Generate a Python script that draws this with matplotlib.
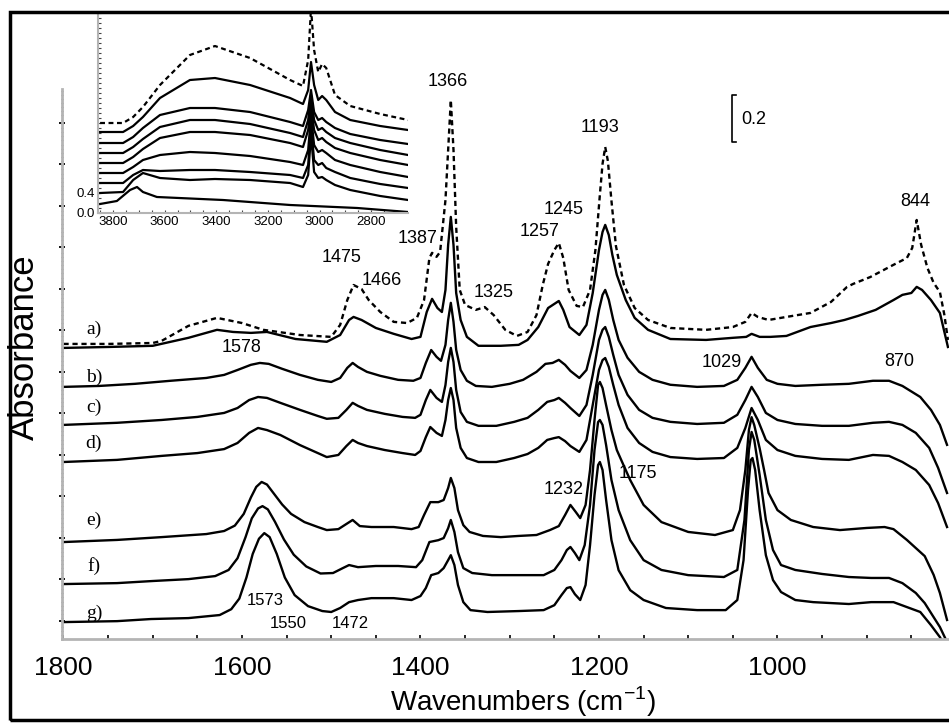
import numpy as np
import matplotlib.pyplot as plt
from matplotlib.ticker import MultipleLocator, FixedLocator, NullFormatter
from matplotlib.patches import Rectangle

plt.rcParams['font.family'] = ['Liberation Sans', 'DejaVu Sans']
plt.rcParams['mathtext.fontset'] = 'custom'
plt.rcParams['mathtext.rm'] = 'Liberation Sans'

# ---- main spectra (1800-810 cm-1), absorbance above each trace's own baseline ----
wn_ref = [1800, 1750, 1700, 1690, 1660, 1628, 1600, 1576, 1535, 1500, 1490, 1482, 1475, 1466, 1458,
          1445, 1430, 1415, 1404, 1396, 1390, 1387, 1382, 1378, 1372, 1369, 1366, 1363, 1360, 1356,
          1350, 1338, 1328, 1318, 1305, 1292, 1280, 1270, 1263, 1257, 1250, 1245, 1240, 1234, 1225,
          1218, 1210, 1204, 1199, 1196, 1193, 1190, 1186, 1181, 1172, 1160, 1145, 1120, 1080, 1050,
          1036, 1029, 1022, 1010, 990, 963, 940, 922, 915, 896, 870, 855, 849, 844, 839,
          832, 825, 818, 813, 809]
abs_ref = [0, 0, 0.004, 0.013, 0.077, 0.111, 0.089, 0.060, 0.038, 0.030, 0.081, 0.187, 0.251, 0.234, 0.187,
           0.136, 0.094, 0.089, 0.111, 0.187, 0.366, 0.388, 0.371, 0.392, 0.613, 0.826, 1.039, 0.826, 0.498, 0.230,
           0.166, 0.145, 0.157, 0.123, 0.060, 0.034, 0.051, 0.123, 0.251, 0.341, 0.400, 0.430, 0.366, 0.230, 0.162,
           0.157, 0.230, 0.400, 0.635, 0.767, 0.839, 0.779, 0.609, 0.417, 0.251, 0.153, 0.102, 0.068, 0.060, 0.072,
           0.094, 0.132, 0.115, 0.102, 0.115, 0.132, 0.179, 0.243, 0.256, 0.285, 0.337, 0.366, 0.409, 0.528, 0.422,
           0.324, 0.260, 0.221, 0.124, 0.017]

wn_a = [1800, 1750, 1700, 1660, 1628, 1610, 1590, 1572, 1540, 1505, 1490, 1480, 1475, 1466, 1450,
        1430, 1410, 1400, 1393, 1387, 1381, 1376, 1372, 1369, 1366, 1363, 1360, 1355, 1348, 1335,
        1310, 1290, 1280, 1268, 1257, 1245, 1240, 1233, 1222, 1214, 1207, 1200, 1196, 1193, 1189,
        1185, 1180, 1170, 1160, 1145, 1120, 1080, 1050, 1035, 1029, 1020, 1008, 990, 963, 940,
        925, 910, 890, 870, 860, 850, 844, 838, 828, 818, 809]
abs_a = [0, 0.004, 0.009, 0.043, 0.077, 0.068, 0.064, 0.068, 0.038, 0.026, 0.055, 0.119, 0.132, 0.119, 0.085,
         0.060, 0.038, 0.047, 0.153, 0.209, 0.170, 0.153, 0.247, 0.439, 0.558, 0.439, 0.234, 0.119, 0.047, 0.009,
         0.009, 0.013, 0.034, 0.089, 0.170, 0.200, 0.162, 0.089, 0.055, 0.098, 0.234, 0.417, 0.494, 0.524, 0.481,
         0.396, 0.311, 0.204, 0.128, 0.077, 0.038, 0.034, 0.043, 0.047, 0.060, 0.047, 0.047, 0.051, 0.089, 0.106,
         0.119, 0.136, 0.162, 0.204, 0.226, 0.234, 0.260, 0.247, 0.204, 0.149, 0.004]

wn_b = [1800, 1760, 1720, 1680, 1640, 1620, 1605, 1590, 1580, 1570, 1555, 1535, 1515, 1500, 1490,
        1482, 1476, 1470, 1460, 1445, 1425, 1408, 1400, 1394, 1388, 1382, 1377, 1372, 1369, 1366,
        1363, 1360, 1355, 1348, 1338, 1320, 1300, 1285, 1270, 1260, 1252, 1245, 1238, 1232, 1222,
        1214, 1207, 1200, 1196, 1193, 1189, 1184, 1178, 1168, 1155, 1140, 1120, 1090, 1060, 1045,
        1036, 1029, 1022, 1012, 1000, 980, 950, 920, 893, 875, 860, 840, 828, 818, 810]
abs_b = [0, 0.004, 0.013, 0.026, 0.038, 0.051, 0.072, 0.094, 0.102, 0.098, 0.077, 0.051, 0.030, 0.021, 0.038,
         0.081, 0.102, 0.085, 0.064, 0.047, 0.030, 0.026, 0.038, 0.102, 0.157, 0.128, 0.111, 0.179, 0.285, 0.358,
         0.277, 0.158, 0.072, 0.026, 0.004, 0, 0.013, 0.030, 0.064, 0.098, 0.102, 0.115, 0.094, 0.068, 0.038,
         0.072, 0.179, 0.328, 0.392, 0.413, 0.371, 0.285, 0.200, 0.124, 0.064, 0.030, 0.009, 0, 0.004, 0.030,
         0.081, 0.128, 0.081, 0.030, 0.013, 0.004, 0.009, 0.013, 0.026, 0.026, 0.004, -0.043, -0.098, -0.162, -0.247]

wn_c = [1800, 1740, 1690, 1650, 1620, 1605, 1592, 1582, 1572, 1557, 1535, 1515, 1505, 1492, 1483,
        1476, 1470, 1460, 1440, 1420, 1406, 1400, 1394, 1389, 1382, 1376, 1372, 1369, 1366, 1363,
        1360, 1355, 1348, 1335, 1315, 1295, 1280, 1268, 1258, 1250, 1245, 1238, 1232, 1222, 1214,
        1207, 1200, 1196, 1193, 1189, 1184, 1178, 1168, 1155, 1140, 1120, 1090, 1060, 1045, 1036,
        1029, 1022, 1013, 1000, 980, 950, 920, 893, 875, 860, 845, 830, 820, 810]
abs_c = [0, 0.009, 0.021, 0.034, 0.051, 0.072, 0.106, 0.119, 0.115, 0.094, 0.064, 0.038, 0.026, 0.030, 0.064,
         0.094, 0.081, 0.064, 0.047, 0.034, 0.030, 0.043, 0.106, 0.149, 0.115, 0.098, 0.170, 0.268, 0.328, 0.268,
         0.149, 0.055, 0.013, -0.004, -0.004, 0.013, 0.030, 0.064, 0.098, 0.106, 0.115, 0.094, 0.072, 0.038, 0.085,
         0.213, 0.362, 0.405, 0.417, 0.375, 0.298, 0.213, 0.128, 0.064, 0.030, 0.013, 0.004, 0.009, 0.043, 0.106,
         0.162, 0.119, 0.051, 0.021, 0.004, -0.004, -0.004, 0.009, 0.013, 0, -0.034, -0.098, -0.183, -0.290]

wn_d = wn_c
abs_d = [0, 0.009, 0.026, 0.038, 0.055, 0.081, 0.124, 0.145, 0.136, 0.115, 0.072, 0.038, 0.021, 0.030, 0.068,
         0.094, 0.081, 0.068, 0.051, 0.038, 0.030, 0.047, 0.106, 0.149, 0.124, 0.111, 0.179, 0.264, 0.315, 0.264,
         0.145, 0.060, 0.017, 0, 0, 0.017, 0.034, 0.060, 0.094, 0.102, 0.106, 0.089, 0.068, 0.043, 0.094,
         0.243, 0.392, 0.434, 0.443, 0.405, 0.328, 0.243, 0.145, 0.081, 0.043, 0.021, 0.013, 0.017, 0.060, 0.145,
         0.230, 0.179, 0.094, 0.051, 0.026, 0.013, 0.009, 0.030, 0.026, 0, -0.034, -0.098, -0.175, -0.277]

wn_e = [1800, 1740, 1690, 1640, 1620, 1608, 1598, 1590, 1584, 1578, 1572, 1565, 1555, 1545, 1530,
        1515, 1505, 1492, 1483, 1476, 1468, 1455, 1430, 1410, 1402, 1396, 1389, 1380, 1374, 1369,
        1366, 1362, 1358, 1352, 1345, 1330, 1310, 1290, 1270, 1255, 1245, 1238, 1232, 1226, 1221,
        1215, 1210, 1205, 1201, 1199, 1196, 1192, 1186, 1180, 1175, 1165, 1150, 1130, 1100, 1070,
        1050, 1042, 1036, 1032, 1029, 1026, 1020, 1015, 1010, 1000, 985, 960, 930, 900, 880,
        870, 855, 835, 825, 818, 810]
abs_e = [0, 0.009, 0.021, 0.034, 0.047, 0.070, 0.120, 0.190, 0.235, 0.256, 0.245, 0.210, 0.160, 0.120, 0.085,
         0.064, 0.051, 0.055, 0.077, 0.094, 0.068, 0.064, 0.064, 0.055, 0.064, 0.115, 0.170, 0.170, 0.179, 0.230,
         0.273, 0.230, 0.136, 0.072, 0.043, 0.026, 0.021, 0.026, 0.030, 0.051, 0.068, 0.115, 0.158, 0.128, 0.102,
         0.158, 0.307, 0.520, 0.669, 0.682, 0.656, 0.583, 0.477, 0.392, 0.349, 0.264, 0.158, 0.085, 0.043, 0.030,
         0.051, 0.136, 0.307, 0.477, 0.532, 0.498, 0.400, 0.307, 0.209, 0.136, 0.094, 0.064, 0.051, 0.060, 0.064,
         0.055, 0.009, -0.060, -0.140, -0.217, -0.332]

wn_f = [1800, 1740, 1700, 1660, 1630, 1615, 1605, 1596, 1589, 1582, 1577, 1571, 1563, 1553, 1542,
        1528, 1512, 1498, 1487, 1480, 1470, 1450, 1425, 1405, 1398, 1390, 1380, 1374, 1369, 1366,
        1362, 1358, 1352, 1342, 1320, 1290, 1262, 1250, 1242, 1236, 1232, 1227, 1222, 1216, 1210,
        1205, 1201, 1199, 1196, 1192, 1186, 1178, 1165, 1150, 1130, 1100, 1060, 1045, 1037, 1032,
        1029, 1026, 1020, 1013, 1005, 996, 980, 950, 920, 895, 875, 860, 845, 835, 825,
        818, 810]
abs_f = [0, 0.004, 0.013, 0.021, 0.034, 0.060, 0.110, 0.200, 0.280, 0.322, 0.332, 0.318, 0.265, 0.190, 0.125,
         0.075, 0.045, 0.047, 0.068, 0.081, 0.072, 0.077, 0.077, 0.072, 0.102, 0.179, 0.187, 0.196, 0.238, 0.273,
         0.222, 0.136, 0.068, 0.047, 0.038, 0.038, 0.038, 0.060, 0.102, 0.145, 0.158, 0.132, 0.102, 0.166, 0.337,
         0.571, 0.690, 0.699, 0.678, 0.592, 0.443, 0.315, 0.187, 0.102, 0.060, 0.038, 0.030, 0.060, 0.273, 0.571,
         0.648, 0.614, 0.465, 0.273, 0.145, 0.081, 0.060, 0.043, 0.030, 0.026, 0.026, 0.004, -0.038, -0.081, -0.141,
         -0.183, -0.247]

wn_g = [1800, 1740, 1702, 1660, 1625, 1612, 1603, 1595, 1588, 1581, 1575, 1569, 1561, 1552, 1541,
        1526, 1510, 1500, 1490, 1480, 1470, 1455, 1430, 1410, 1400, 1394, 1388, 1380, 1374, 1369,
        1366, 1362, 1358, 1352, 1344, 1325, 1290, 1262, 1250, 1242, 1236, 1232, 1227, 1221, 1215,
        1210, 1205, 1201, 1199, 1196, 1192, 1186, 1178, 1165, 1150, 1125, 1090, 1058, 1045, 1038,
        1033, 1030, 1028, 1025, 1020, 1013, 1005, 996, 980, 960, 920, 895, 870, 855, 840,
        828, 818, 810]
abs_g = [0, 0.004, 0.013, 0.017, 0.030, 0.055, 0.100, 0.190, 0.290, 0.355, 0.379, 0.362, 0.290, 0.190, 0.115,
         0.068, 0.047, 0.043, 0.060, 0.085, 0.094, 0.102, 0.102, 0.094, 0.111, 0.145, 0.200, 0.209, 0.230, 0.264,
         0.285, 0.243, 0.158, 0.085, 0.051, 0.043, 0.047, 0.051, 0.072, 0.115, 0.145, 0.149, 0.119, 0.094, 0.158,
         0.328, 0.541, 0.669, 0.682, 0.648, 0.520, 0.349, 0.221, 0.136, 0.094, 0.060, 0.051, 0.051, 0.094, 0.264,
         0.562, 0.690, 0.699, 0.648, 0.477, 0.285, 0.179, 0.128, 0.094, 0.085, 0.077, 0.085, 0.085, 0.064, 0.043,
         -0.013, -0.064, -0.119]

# ---- inset: O-H / C-H stretching region ----
wn_hi = [3850, 3761, 3722, 3684, 3618, 3502, 3405, 3269, 3114, 3064, 3044, 3033, 3021, 3005, 2990,
         2974, 2940, 2881, 2765, 2657]
hi_ref = [1.80, 1.80, 1.92, 2.12, 2.56, 3.16, 3.34, 3.10, 2.66, 2.54, 3.06, 4.10, 3.26, 2.82, 2.98,
          2.90, 2.36, 2.14, 1.98, 1.86]
hi_a = [1.62, 1.62, 1.74, 1.92, 2.30, 2.66, 2.70, 2.56, 2.30, 2.18, 2.46, 3.02, 2.56, 2.26, 2.34,
        2.26, 2.02, 1.86, 1.74, 1.66]
hi_b = [1.40, 1.40, 1.52, 1.70, 1.96, 2.10, 2.10, 2.02, 1.82, 1.74, 2.06, 2.46, 2.02, 1.86, 1.90,
        1.82, 1.70, 1.58, 1.46, 1.38]
hi_c = [1.20, 1.20, 1.32, 1.48, 1.72, 1.86, 1.86, 1.78, 1.60, 1.52, 1.86, 2.36, 1.86, 1.66, 1.70,
        1.62, 1.50, 1.40, 1.26, 1.16]
hi_d = [1.00, 1.00, 1.12, 1.28, 1.50, 1.62, 1.62, 1.56, 1.40, 1.32, 1.66, 2.16, 1.66, 1.46, 1.50,
        1.42, 1.30, 1.20, 1.06, 0.96]
hi_e = [0.80, 0.80, 0.92, 1.06, 1.16, 1.22, 1.20, 1.14, 1.02, 0.96, 1.26, 1.96, 1.36, 1.22, 1.26,
        1.20, 1.06, 0.96, 0.82, 0.72]
hi_f = [0.60, 0.60, 0.76, 0.86, 0.84, 0.86, 0.86, 0.82, 0.76, 0.70, 0.96, 1.76, 1.06, 0.96, 1.00,
        0.90, 0.82, 0.70, 0.58, 0.50]
hi_g = [0.40, 0.42, 0.66, 0.80, 0.70, 0.66, 0.68, 0.66, 0.60, 0.52, 0.76, 1.56, 0.82, 0.70, 0.72,
        0.66, 0.56, 0.46, 0.34, 0.26]
wn_hi_bare = [3850, 3785, 3734, 3707, 3684, 3630, 3374, 3114, 2854, 2657]
hi_bare = [0.18, 0.24, 0.46, 0.52, 0.42, 0.32, 0.26, 0.16, 0.10, 0.02]

# stacking offsets for the main traces (a.u.)
offsets = {'ref': 1.257, 'a': 1.240, 'b': 1.074, 'c': 0.912, 'd': 0.754,
           'e': 0.413, 'f': 0.234, 'g': 0.072}

fig = plt.figure(figsize=(9.49, 7.23), dpi=100)
fig.patch.set_facecolor('white')
fig.add_artist(Rectangle((0.0105, 0.004), 1.0, 0.979, transform=fig.transFigure,
                         fill=False, lw=2.5, ec='black'))

ax = fig.add_axes([0.0653, 0.1162, 0.9347, 0.7607])
lw = 1.7
ax.plot(wn_ref, np.array(abs_ref) + offsets['ref'], color='black', lw=lw,
        ls=(0, (2.2, 1.6)))
for key, wn, ab in [('a', wn_a, abs_a), ('b', wn_b, abs_b), ('c', wn_c, abs_c),
                    ('d', wn_d, abs_d), ('e', wn_e, abs_e), ('f', wn_f, abs_f),
                    ('g', wn_g, abs_g)]:
    ax.plot(wn, np.array(ab) + offsets[key], color='black', lw=lw)

ax.set_xlim(1801.7, 807.8)
ax.set_ylim(0, 2.343)
for s in ['top', 'right']:
    ax.spines[s].set_visible(False)
for s in ['left', 'bottom']:
    ax.spines[s].set_color('#b4b4b4')
    ax.spines[s].set_linewidth(2)
ax.xaxis.set_major_locator(MultipleLocator(200))
ax.xaxis.set_minor_locator(MultipleLocator(50))
ax.yaxis.set_major_locator(FixedLocator(np.arange(0.077, 2.34, 0.1768)))
ax.yaxis.set_minor_locator(MultipleLocator(0.0177))
ax.yaxis.set_major_formatter(NullFormatter())
ax.tick_params(axis='x', which='both', direction='in', length=3, width=1.2,
               color='black', labelsize=19, pad=12)
ax.tick_params(axis='y', which='major', direction='inout', length=4, width=1.3, color='black')
ax.tick_params(axis='y', which='minor', direction='inout', length=2, width=0.8, color='#555555')
ax.set_xlabel('Wavenumbers (cm$^{-1}$)', fontsize=20)
ax.xaxis.set_label_coords(0.52, -0.083)
ax.set_ylabel('Absorbance', fontsize=25)
ax.yaxis.set_label_coords(-0.024, 0.53)

# peak annotations
peaks = [('1366', 1369, 2.373), ('1193', 1199, 2.177), ('1245', 1240, 1.828),
         ('1257', 1267, 1.734), ('1387', 1403, 1.704), ('1475', 1488, 1.627),
         ('1466', 1443, 1.529), ('1325', 1318, 1.474), ('844', 846, 1.862),
         ('1578', 1600, 1.240), ('1029', 1062, 1.176), ('870', 863, 1.184),
         ('1175', 1156, 0.703), ('1232', 1240, 0.635)]
for txt, x, y in peaks:
    ax.text(x, y, txt, fontsize=13, ha='center', va='center')
for txt, x, y in [('1573', 1574, 0.166), ('1550', 1548, 0.068), ('1472', 1479, 0.068)]:
    ax.text(x, y, txt, fontsize=12, ha='center', va='center')

# trace labels
for txt, y in zip(['a)', 'b)', 'c)', 'd)', 'e)', 'f)', 'g)'],
                  [1.321, 1.116, 0.988, 0.835, 0.507, 0.311, 0.111]):
    ax.text(1766, y, txt, fontsize=14, family='Liberation Serif', ha='center', va='center')

# absorbance scale bar
ax.plot([1047, 1051, 1051, 1047], [2.317, 2.317, 2.117, 2.117], color='black', lw=1.2,
        clip_on=False)
ax.text(1041, 2.215, '0.2', fontsize=13, ha='left', va='center')

# inset
ins = fig.add_axes([0.1033, 0.7054, 0.3267, 0.2766])
ins.patch.set_alpha(0)
ins.plot(wn_hi, hi_ref, color='black', lw=1.6, ls=(0, (2.2, 1.6)))
for hv in [hi_a, hi_b, hi_c, hi_d, hi_e, hi_f, hi_g]:
    ins.plot(wn_hi, hv, color='black', lw=1.6)
ins.plot(wn_hi_bare, hi_bare, color='black', lw=1.6)
ins.set_xlim(3858, 2657)
ins.set_ylim(0, 4.0)
for s in ['top', 'right']:
    ins.spines[s].set_visible(False)
for s in ['left', 'bottom']:
    ins.spines[s].set_color('#b4b4b4')
    ins.spines[s].set_linewidth(1.5)
ins.xaxis.set_major_locator(MultipleLocator(200))
ins.xaxis.set_minor_locator(MultipleLocator(50))
ins.yaxis.set_major_locator(FixedLocator([0.0, 0.4]))
ins.yaxis.set_minor_locator(MultipleLocator(0.1))
ins.yaxis.set_major_formatter(plt.FuncFormatter(lambda v, p: f'{v:.1f}'))
ins.tick_params(which='both', direction='in', length=2, width=0.8, color='#444444',
                labelsize=9.5, pad=2)

fig.savefig('out.png', dpi=100)
